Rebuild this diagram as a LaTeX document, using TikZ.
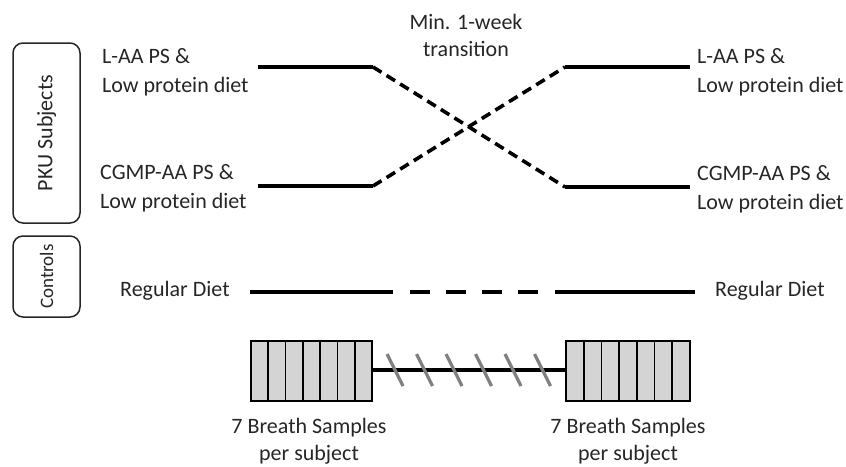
\documentclass[tikz,border=0pt]{standalone}
\usepackage{fontspec}
\setmainfont{Carlito}
\begin{document}
\begin{tikzpicture}[x=1pt,y=-1pt,
  lbl/.style={font=\fontsize{22}{29}\selectfont, text=black!85, align=left, inner sep=0pt},
  clbl/.style={font=\fontsize{22}{27}\selectfont, text=black!85, align=center, inner sep=0pt},
  grp/.style={draw=black!85, line width=1.5pt, rounded corners=10pt, rotate=90, minimum height=67pt, inner sep=0pt, font=\fontsize{22}{24}\selectfont, text=black!85},
  solidln/.style={line width=3.3pt, black},
  dashln/.style={line width=3.6pt, black, dash pattern=on 10pt off 6pt},
  seg/.style={draw=black, line width=1.6pt, fill=black!17, minimum width=17.4pt, minimum height=60pt, inner sep=0pt},
  slash/.style={line width=3.2pt, black!50}
]
\useasboundingbox (0,0) rectangle (846,466);

% group boxes
\node[grp, minimum width=180pt] (pku) at (46.5,133) {PKU Subjects};
\node[grp, minimum width=81pt, font=\fontsize{19}{22}\selectfont] (ctl) at (46.5,276.5) {Controls};

% transition label
\node[clbl] (trans) at (466,35) {Min. 1-week\\transition};

% labels
\node[lbl, anchor=west] (l1) at (102,72.5) {L-AA PS \&\\Low protein diet};
\node[lbl, anchor=west] (l2) at (100,188) {CGMP-AA PS \&\\Low protein diet};
\node[lbl, anchor=west] (r1) at (697,72.5) {L-AA PS \&\\Low protein diet};
\node[lbl, anchor=west] (r2) at (697,189) {CGMP-AA PS \&\\Low protein diet};
\node[lbl, anchor=west] (lreg) at (120,291) {Regular Diet};
\node[lbl, anchor=west] (rreg) at (715,291) {Regular Diet};

% path coordinates
\coordinate (a1) at (258,67);
\coordinate (a2) at (373,67);
\coordinate (a3) at (565,187);
\coordinate (a4) at (690,187);
\coordinate (b1) at (258,186);
\coordinate (b2) at (373,186);
\coordinate (b3) at (565,67);
\coordinate (b4) at (690,67);

\draw[solidln] (a1) -- (a2);
\draw[dashln] (a2) -- (a3);
\draw[solidln] (a3) -- (a4);
\draw[solidln] (b1) -- (b2);
\draw[dashln] (b2) -- (b3);
\draw[solidln] (b3) -- (b4);

% regular diet line
\coordinate (c1) at (250,292);
\coordinate (c2) at (393,292);
\coordinate (c3) at (410,292);
\coordinate (c4) at (538,292);
\coordinate (c5) at (555,292);
\coordinate (c6) at (695,292);
\draw[solidln] (c1) -- (c2);
\draw[line width=3.3pt, black, dash pattern=on 20pt off 16pt] (c3) -- (c4);
\draw[solidln] (c5) -- (c6);

% breath sample boxes
\foreach \i in {0,...,6} {
  \node[seg] (L\i) at ({251+17.3*\i+8.65},371) {};
  \node[seg, minimum width=17.7pt] (R\i) at ({566+17.7*\i+8.85},371) {};
}
\draw[line width=3.3pt, black] (L6.east |- 0,370) -- (R0.west |- 0,370);
\foreach \c in {395,424.5,454,483.5,513,542.5} {
  \draw[slash] (\c-8,354) -- (\c+8,386);
}

\node[clbl] (lbs) at (309,441) {7 Breath Samples\\per subject};
\node[clbl] (rbs) at (628,441) {7 Breath Samples\\per subject};
\end{tikzpicture}
\end{document}
